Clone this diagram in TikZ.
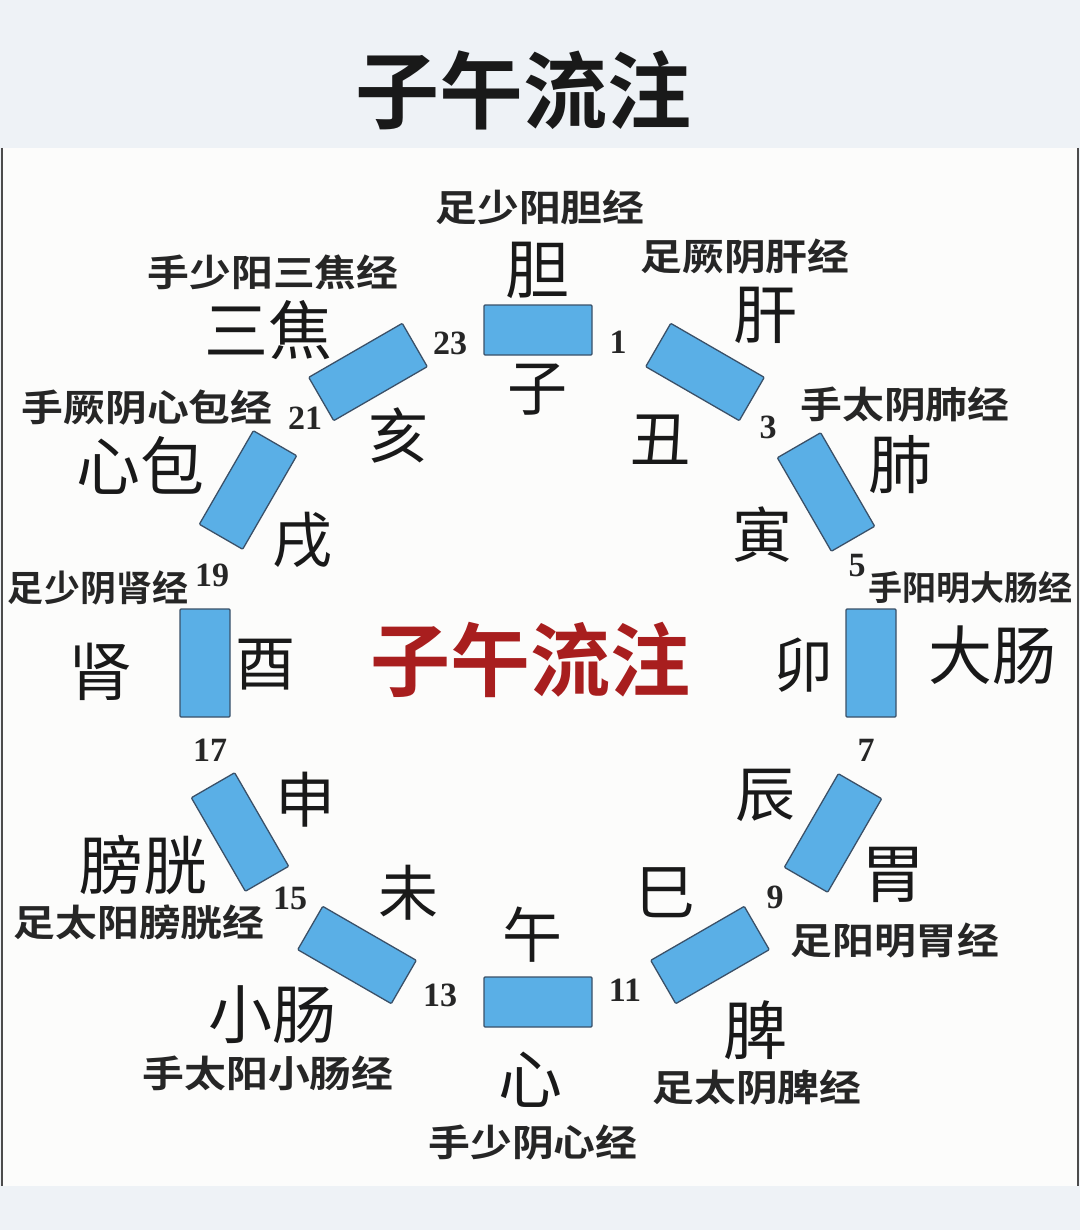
\documentclass[tikz,border=0pt]{standalone}
\usepackage{fontspec}
\setmainfont{Noto Sans CJK SC}[BoldFont={Noto Sans CJK SC Bold}]
\newfontfamily\merfont{Noto Sans CJK SC Bold}[FakeStretch=1.13]
\newfontfamily\numfont{Liberation Serif}
\definecolor{bandgray}{HTML}{EEF2F6}
\definecolor{panelwhite}{HTML}{FCFCFB}
\definecolor{barblue}{HTML}{5AAFE6}
\definecolor{baredge}{HTML}{3A5068}
\definecolor{centerred}{HTML}{A81E1E}
\tikzset{
  bar/.style={draw=baredge, line width=1.3pt, fill=barblue, minimum width=108pt, minimum height=50pt, inner sep=0pt, rounded corners=1pt},
  meridian/.style={inner sep=0pt, font=\merfont\fontsize{37}{37}\selectfont, text=black!85},
  narrowmeridian/.style={inner sep=0pt, font=\fontsize{36}{36}\selectfont\bfseries, text=black!85},
  organ/.style={inner sep=0pt, font=\fontsize{64}{64}\selectfont, text=black!90},
  branch/.style={inner sep=0pt, font=\fontsize{60}{60}\selectfont, text=black!90},
  hour/.style={inner sep=0pt, font=\numfont\bfseries\fontsize{34}{34}\selectfont, text=black!85},
}
\begin{document}
\begin{tikzpicture}[x=1pt,y=-1pt]
\useasboundingbox (0,0) rectangle (1080,1230);
\fill[bandgray] (0,0) rectangle (1080,1230);
\fill[panelwhite] (3,148) rectangle (1077,1186);
\draw[black!70, line width=2.5pt] (2,148) -- (2,1186);
\draw[black!70, line width=2.5pt] (1078,148) -- (1078,1186);
\node[inner sep=0pt, font=\fontsize{84}{84}\selectfont\bfseries, text=black!90] (title) at (523,90) {子午流注};
\node[inner sep=0pt, font=\fontsize{80}{80}\selectfont\bfseries, text=centerred] (center) at (530,660) {子午流注};
% bars
\node[bar, rotate=0]   (b0)  at (538,330) {};
\node[bar, rotate=-30] (b1)  at (705,372) {};
\node[bar, rotate=-60] (b2)  at (826,492) {};
\node[bar, rotate=-90] (b3)  at (871,663) {};
\node[bar, rotate=60]  (b4)  at (833,833) {};
\node[bar, rotate=30]  (b5)  at (710,955) {};
\node[bar, rotate=0]   (b6)  at (538,1002) {};
\node[bar, rotate=-30] (b7)  at (357,955) {};
\node[bar, rotate=-60] (b8)  at (240,832) {};
\node[bar, rotate=90]  (b9)  at (205,663) {};
\node[bar, rotate=60]  (b10) at (248,490) {};
\node[bar, rotate=30]  (b11) at (368,372) {};
% meridians
\node[meridian] (m0)  at (540,207) {足少阳胆经};
\node[meridian] (m1)  at (745,257) {足厥阴肝经};
\node[meridian] (m2)  at (905,405) {手太阴肺经};
\node[narrowmeridian, font=\fontsize{34}{34}\selectfont\bfseries] (m3)  at (970,588) {手阳明大肠经};
\node[meridian] (m4)  at (895,940) {足阳明胃经};
\node[meridian] (m5)  at (757,1088) {足太阴脾经};
\node[meridian] (m6)  at (533,1143) {手少阴心经};
\node[meridian] (m7)  at (268,1073) {手太阳小肠经};
\node[meridian] (m8)  at (139,922) {足太阳膀胱经};
\node[narrowmeridian] (m9)  at (98,588) {足少阴肾经};
\node[meridian] (m10) at (147,408) {手厥阴心包经};
\node[meridian] (m11) at (273,272) {手少阳三焦经};
% organs
\node[organ] (o0)  at (537,270) {胆};
\node[organ] (o1)  at (765,315) {肝};
\node[organ] (o2)  at (900,465) {肺};
\node[organ] (o3)  at (992,655) {大肠};
\node[organ] (o4)  at (893,875) {胃};
\node[organ] (o5)  at (755,1030) {脾};
\node[organ] (o6)  at (530,1080) {心};
\node[organ] (o7)  at (272,1015) {小肠};
\node[organ] (o8)  at (143,865) {膀胱};
\node[organ] (o9)  at (100,672) {肾};
\node[organ] (o10) at (140,465) {心包};
\node[organ] (o11) at (268,330) {三焦};
% branches
\node[branch] (z0)  at (537,390) {子};
\node[branch] (z1)  at (660,440) {丑};
\node[branch] (z2)  at (762,535) {寅};
\node[branch] (z3)  at (803,665) {卯};
\node[branch] (z4)  at (765,795) {辰};
\node[branch] (z5)  at (665,893) {巳};
\node[branch] (z6)  at (532,935) {午};
\node[branch] (z7)  at (408,893) {未};
\node[branch] (z8)  at (305,800) {申};
\node[branch] (z9)  at (265,665) {酉};
\node[branch] (z10) at (302,540) {戌};
\node[branch] (z11) at (398,435) {亥};
% hours
\node[hour] (h1)  at (618,342) {1};
\node[hour] (h3)  at (768,427) {3};
\node[hour] (h5)  at (857,566) {5};
\node[hour] (h7)  at (866,750) {7};
\node[hour] (h9)  at (775,897) {9};
\node[hour] (h11) at (625,990) {11};
\node[hour] (h13) at (440,995) {13};
\node[hour] (h15) at (290,898) {15};
\node[hour] (h17) at (210,750) {17};
\node[hour] (h19) at (212,575) {19};
\node[hour] (h21) at (305,418) {21};
\node[hour] (h23) at (450,343) {23};
\end{tikzpicture}
\end{document}
